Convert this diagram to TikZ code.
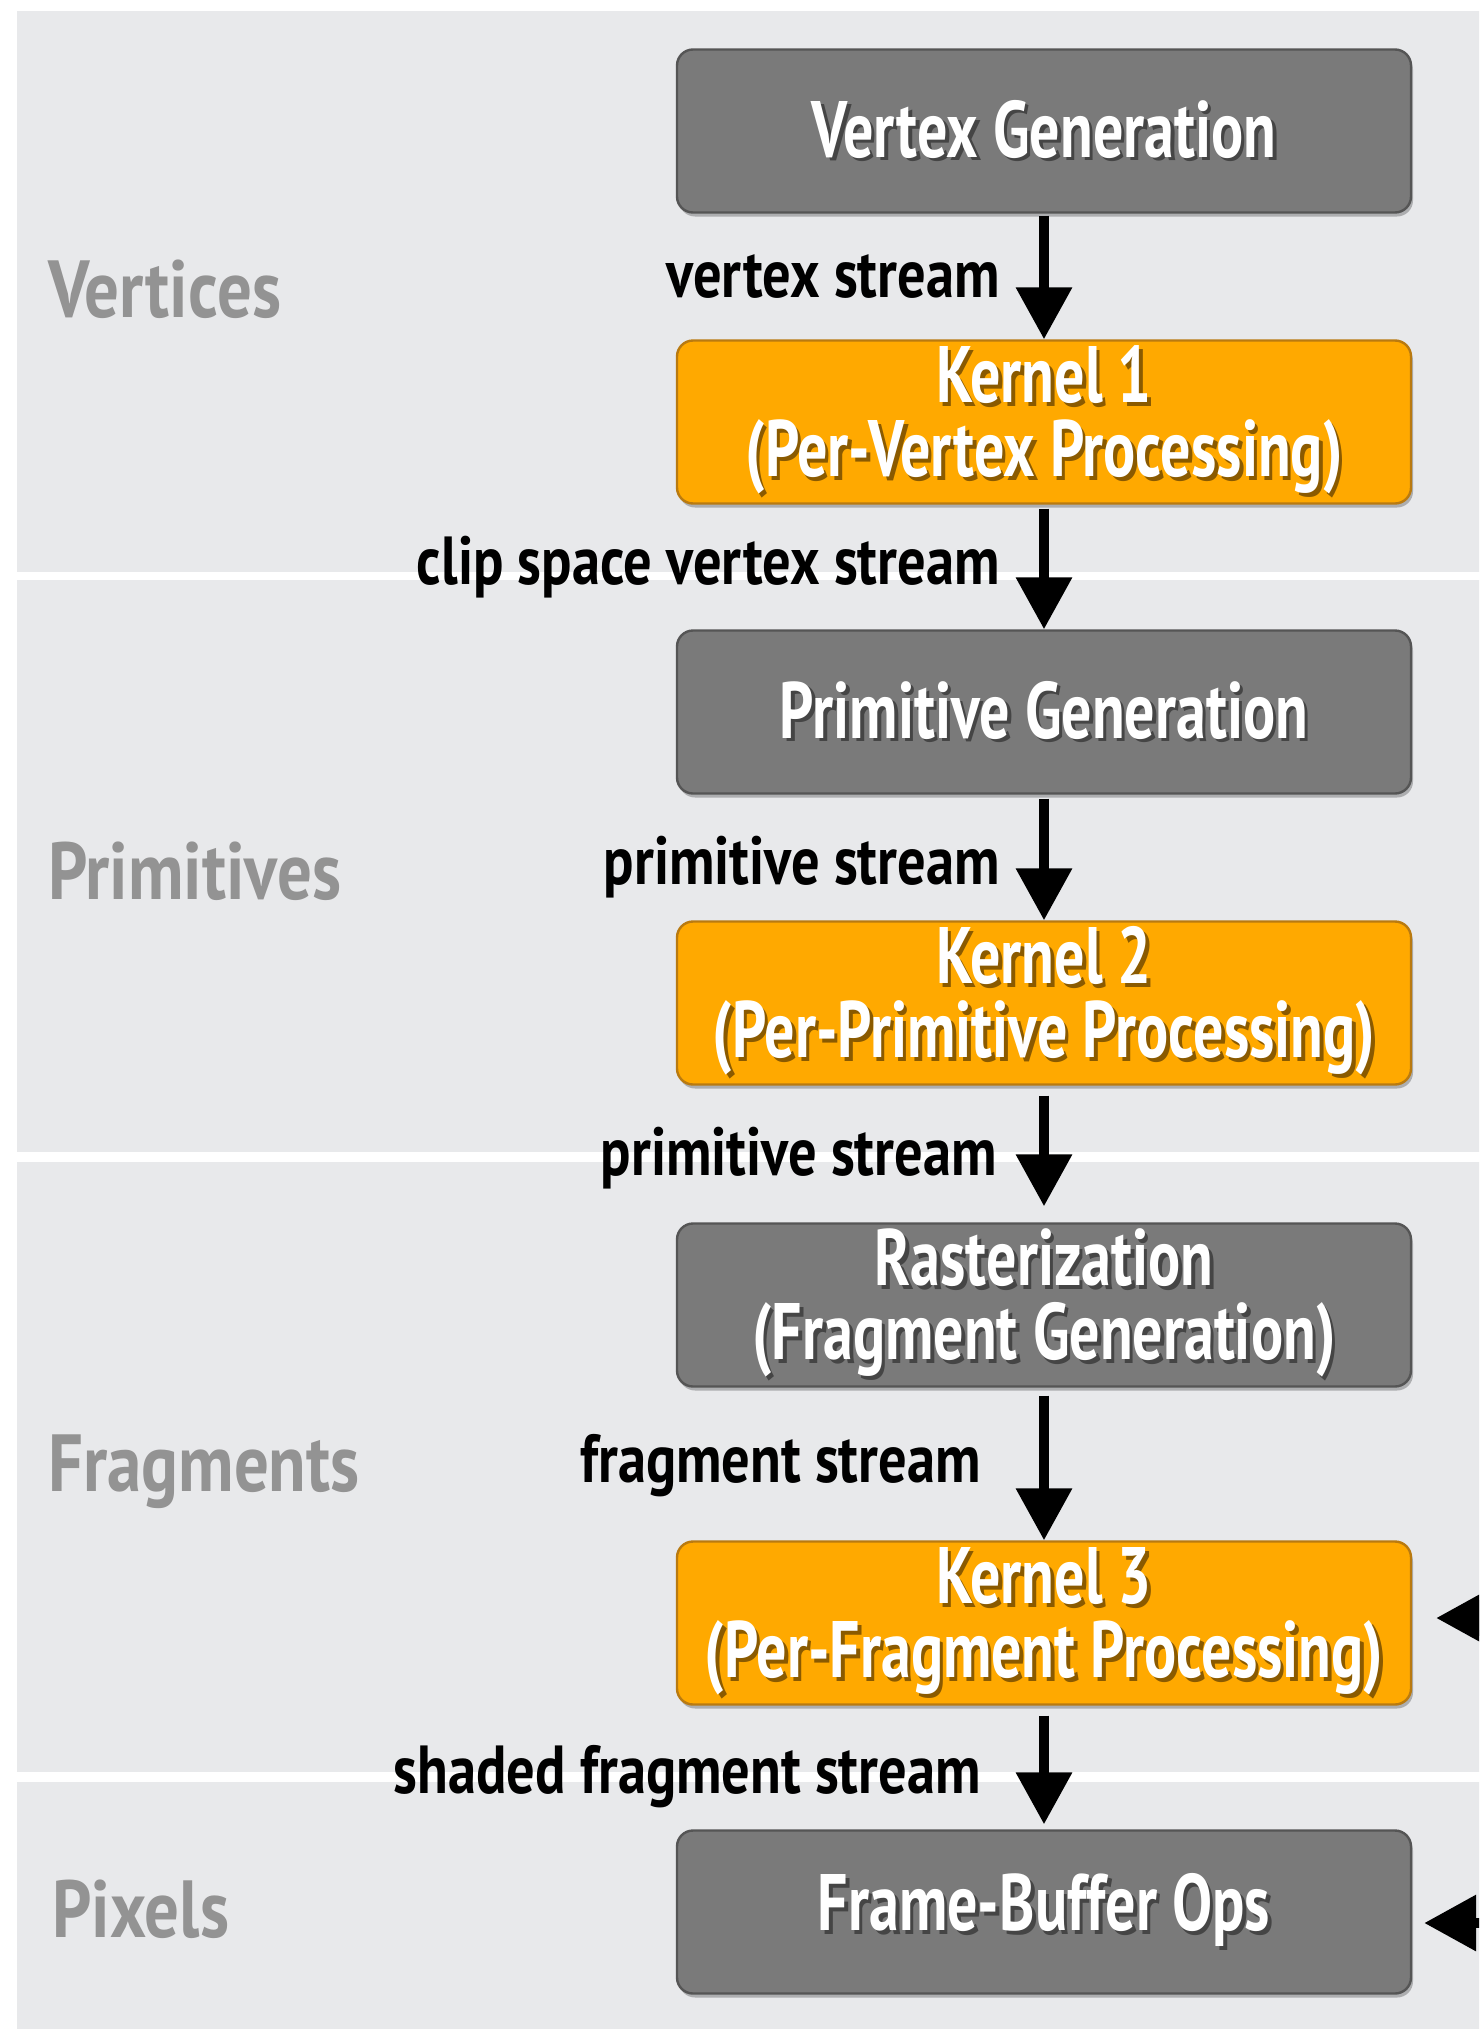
\documentclass[tikz,border=0pt]{standalone}
\usepackage{fontspec}
\setmainfont{PT Sans}[FakeStretch=0.75]
\newfontfamily\streamfont{PT Sans}[FakeStretch=0.83]
\newfontfamily\bandfont{PT Sans}[FakeStretch=0.85]
\usetikzlibrary{arrows.meta,shadows}
\definecolor{bandbg}{HTML}{E8E9EB}
\definecolor{boxgray}{HTML}{7A7A7A}
\definecolor{boxgrayline}{HTML}{555555}
\definecolor{boxorange}{HTML}{FFA900}
\definecolor{boxorangeline}{HTML}{B97A10}
\definecolor{bandtext}{HTML}{939393}
\definecolor{grayshd}{HTML}{454545}
\definecolor{orangeshd}{HTML}{8A5A00}
\newcommand\shd[2]{\makebox[0pt][l]{\hspace{1.8pt}\raisebox{-1.8pt}{\color{#1}#2}}#2}
\newcommand\gs[1]{\shd{grayshd}{#1}}
\newcommand\os[1]{\shd{orangeshd}{#1}}
\tikzset{
  box/.style={rounded corners=8pt, minimum width=367pt, minimum height=81.5pt,
    line width=1.2pt, inner sep=0pt, align=center, text=white,
    font=\fontsize{40}{37}\selectfont\bfseries,
    drop shadow={shadow xshift=1pt, shadow yshift=-2pt, opacity=0.25, fill=black}},
  graybox/.style={box, fill=boxgray, draw=boxgrayline},
  orangebox/.style={box, fill=boxorange, draw=boxorangeline},
  flow/.style={line width=5pt, -{Triangle[width=27pt,length=26pt]}},
  bandlabel/.style={anchor=base west, inner sep=0pt, text=bandtext,
    font=\bandfont\fontsize{40.5}{45}\selectfont\bfseries},
  streamlabel/.style={anchor=base east, inner sep=0pt, text=black,
    font=\streamfont\fontsize{34}{38}\selectfont\bfseries},
}
\begin{document}
\begin{tikzpicture}[x=0.5pt,y=-0.5pt]
\useasboundingbox (0,0) rectangle (1479,2029);
\clip (0,0) rectangle (1479,2029);
% bands
\fill[bandbg] (17,11) rectangle (1500,572);
\fill[bandbg] (17,580) rectangle (1500,1152);
\fill[bandbg] (17,1162) rectangle (1500,1772);
\fill[bandbg] (17,1782) rectangle (1500,2040);
% band labels
\node[bandlabel] (lv) at (48,317) {Vertices};
\node[bandlabel] (lp) at (48,899) {Primitives};
\node[bandlabel] (lf) at (48,1491) {Fragments};
\node[bandlabel] (lx) at (52,1937) {Pixels};
% boxes
\node[graybox] (vg) at (1044,131) {\gs{Vertex Generation}};
\node[orangebox] (k1) at (1044,422) {\os{Kernel 1}\\\os{(Per-Vertex Processing)}};
\node[graybox] (pg) at (1044,712) {\gs{Primitive Generation}};
\node[orangebox] (k2) at (1044,1003) {\os{Kernel 2}\\\os{(Per-Primitive Processing)}};
\node[graybox] (rz) at (1044,1305) {\gs{Rasterization}\\\gs{(Fragment Generation)}};
\node[orangebox] (k3) at (1044,1623) {\os{Kernel 3}\\\os{(Per-Fragment Processing)}};
\node[graybox] (fb) at (1044,1912) {\gs{Frame-Buffer Ops}};
% flow arrows
\draw[flow, shorten <=1pt] (vg) -- (k1);
\draw[flow, shorten <=2pt] (k1) -- (pg);
\draw[flow, shorten <=2pt] (pg) -- (k2);
\draw[flow, shorten <=5pt, shorten >=8pt] (k2) -- (rz);
\draw[flow, shorten <=4pt] (rz) -- (k3);
\draw[flow, shorten <=5pt, shorten >=2.5pt] (k3) -- (fb);
% incoming arrows from the right
\coordinate (k3src) at (1570,1618);
\coordinate (fbsrc) at (1570,1923);
\draw[flow, shorten >=12pt] (k3src) -- (k3src -| k3.east);
\draw[flow, shorten >=6pt] (fbsrc) -- (fbsrc -| fb.east);
% stream labels
\node[streamlabel] (s1) at (1000,297) {vertex stream};
\node[streamlabel] (s2) at (1000,584) {clip space vertex stream};
\node[streamlabel] (s3) at (1000,884) {primitive stream};
\node[streamlabel] (s4) at (997,1175) {primitive stream};
\node[streamlabel] (s5) at (981,1482) {fragment stream};
\node[streamlabel] (s6) at (981,1793) {shaded fragment stream};
\end{tikzpicture}
\end{document}
